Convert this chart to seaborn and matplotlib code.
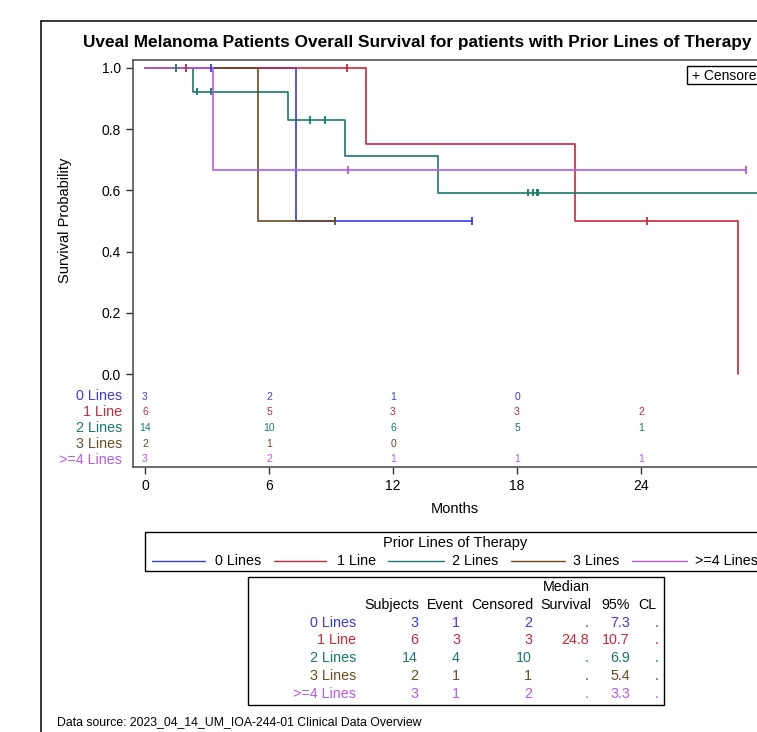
import numpy as np
import pandas as pd
import matplotlib
matplotlib.use("Agg")
import matplotlib.pyplot as plt
import matplotlib.transforms as mtransforms
from matplotlib.patches import Rectangle
from matplotlib.lines import Line2D
import seaborn as sns

# ---------------- data ----------------
groups = ['0 Lines', '1 Line', '2 Lines', '3 Lines', '>=4 Lines']
colors = ['#3A3AEA', '#C8283C', '#167A6A', '#6B4A22', '#B459F0']

# Kaplan-Meier step curves (time in months, survival probability)
step_t_0 = [0.0, 7.3, 15.8]
step_s_0 = [1.0, 0.5, 0.5]
step_t_1 = [0.0, 10.7, 20.8, 28.7]
step_s_1 = [1.0, 0.75, 0.5, 0.0]
step_t_2 = [0.0, 2.3, 6.9, 9.7, 14.2, 31.0]
step_s_2 = [1.0, 0.923, 0.831, 0.712, 0.593, 0.593]
step_t_3 = [0.0, 5.45, 9.2]
step_s_3 = [1.0, 0.5, 0.5]
step_t_4 = [0.0, 3.3, 29.1]
step_s_4 = [1.0, 0.667, 0.667]

# censored observations
cens_t_0 = [3.2, 15.8]
cens_s_0 = [1.0, 0.5]
cens_t_1 = [2.0, 9.75, 24.3]
cens_s_1 = [1.0, 1.0, 0.5]
cens_t_2 = [1.5, 2.5, 3.2, 8.0, 8.7, 18.55, 18.75, 18.95, 19.0]
cens_s_2 = [1.0, 0.923, 0.923, 0.831, 0.831, 0.593, 0.593, 0.593, 0.593]
cens_t_3 = [9.2]
cens_s_3 = [0.5]
cens_t_4 = [9.8, 29.1]
cens_s_4 = [0.667, 0.667]

# number at risk
risk_times = [0, 6, 12, 18, 24]
risk_0 = [3, 2, 1, 0]
risk_1 = [6, 5, 3, 3, 2]
risk_2 = [14, 10, 6, 5, 1]
risk_3 = [2, 1, 0]
risk_4 = [3, 2, 1, 1, 1]

# summary table
tbl_subjects = [3, 6, 14, 2, 3]
tbl_event = [1, 3, 4, 1, 1]
tbl_censored = [2, 3, 10, 1, 2]
tbl_median = ['.', '24.8', '.', '.', '.']
tbl_cl_low = ['7.3', '10.7', '6.9', '5.4', '3.3']
tbl_cl_high = ['.', '.', '.', '.', '.']

x_ticks = [0, 6, 12, 18, 24, 30]
y_ticks = [0.0, 0.2, 0.4, 0.6, 0.8, 1.0]

# ---------------- frames ----------------
steps = [(step_t_0, step_s_0), (step_t_1, step_s_1), (step_t_2, step_s_2),
         (step_t_3, step_s_3), (step_t_4, step_s_4)]
cens = [(cens_t_0, cens_s_0), (cens_t_1, cens_s_1), (cens_t_2, cens_s_2),
        (cens_t_3, cens_s_3), (cens_t_4, cens_s_4)]
risks = [risk_0, risk_1, risk_2, risk_3, risk_4]

df_step = pd.concat([pd.DataFrame({'Months': t, 'Survival': s, 'Group': g})
                     for g, (t, s) in zip(groups, steps)], ignore_index=True)
df_cens = pd.concat([pd.DataFrame({'Months': t, 'Survival': s, 'Group': g})
                     for g, (t, s) in zip(groups, cens)], ignore_index=True)
palette = dict(zip(groups, colors))

sns.set_theme(style='white')
plt.rcParams['font.family'] = ['Liberation Sans', 'DejaVu Sans']

W, H = 757, 732
fig = plt.figure(figsize=(W / 100, H / 100), dpi=100)

def px(x0, y0, x1, y1):
    return [x0 / W, 1 - y1 / H, (x1 - x0) / W, (y1 - y0) / H]

ax = fig.add_axes(px(133, 60, 777, 467))

sns.lineplot(data=df_step, x='Months', y='Survival', hue='Group', hue_order=groups,
             palette=palette, drawstyle='steps-post', estimator=None, sort=False,
             linewidth=1.2, legend=False, ax=ax)
sns.scatterplot(data=df_cens, x='Months', y='Survival', hue='Group', hue_order=groups,
                palette=palette, marker='|', s=30, linewidth=1.3, legend=False, ax=ax,
                zorder=5)

ax.set_xlim(-0.5806, 30.58)
ax.set_ylim(-0.3039, 1.0261)
ax.set_xticks(x_ticks)
ax.set_xticklabels([str(v) for v in x_ticks])
ax.set_yticks(y_ticks)
ax.set_yticklabels([f'{v:.1f}' for v in y_ticks])
ax.set_xlabel('')
ax.set_ylabel('')
ax.tick_params(axis='both', which='both', direction='out', length=5, width=1,
               color='#333333', labelsize=10, labelcolor='black', pad=3.5,
               left=True, bottom=True)
for sp in ax.spines.values():
    sp.set_color('#444444')
    sp.set_linewidth(1.1)

# overlay in pixel coordinates for annotations
ov = fig.add_axes([0, 0, 1, 1], facecolor='none')
ov.set_xlim(0, W)
ov.set_ylim(H, 0)
ov.axis('off')

# at-risk numbers inside the axes
risk_rows_y = [396.5, 412, 428, 444, 459.5]
blend = mtransforms.blended_transform_factory(ax.transData, ov.transData)
for g, c, r, yy in zip(groups, colors, risks, risk_rows_y):
    for t, n in zip(risk_times, r):
        ax.text(t, yy, str(n), transform=blend, ha='center', va='center',
                fontsize=7.5, color=c)
    ov.text(122, yy, g, ha='right', va='center', fontsize=10.3, color=c)

# title and axis labels
ov.text(417, 43, 'Uveal Melanoma Patients Overall Survival for patients with Prior Lines of Therapy',
        ha='center', va='center', fontsize=12.4, fontweight='bold', color='black')
ov.text(65, 220, 'Survival Probability', rotation=90, ha='center', va='center',
        fontsize=10.5, color='black')
ov.text(455, 509, 'Months', ha='center', va='center', fontsize=10.5, color='black')

# outer frame
ov.add_line(Line2D([41, 41], [21, 760], color='black', lw=1.1, clip_on=False))
ov.add_line(Line2D([41, 800], [21, 21], color='black', lw=1.1, clip_on=False))

# censored legend
ov.add_patch(Rectangle((687, 66), 120, 18, fill=False, edgecolor='black', lw=1.0, clip_on=False))
ov.text(692, 75.5, '+ Censored', ha='left', va='center', fontsize=10, color='black', clip_on=False)

# group legend
ov.add_patch(Rectangle((145, 532), 700, 39, fill=False, edgecolor='black', lw=1.0, clip_on=False))
ov.text(455, 542.5, 'Prior Lines of Therapy', ha='center', va='center', fontsize=10.5, color='black')
leg_line_x = [(152, 205), (274, 326), (388, 444), (511, 565), (632, 687)]
leg_text_x = [215, 337, 452, 573, 695]
for g, c, (x0, x1), tx in zip(groups, colors, leg_line_x, leg_text_x):
    ov.add_line(Line2D([x0, x1], [561, 561], color=c, lw=1.0))
    ov.text(tx, 561, g, ha='left', va='center', fontsize=10.3, color='black', clip_on=False)

# statistics table
ov.add_patch(Rectangle((248, 577), 416, 128, fill=False, edgecolor='black', lw=1.0))
ov.text(590, 587, 'Median', ha='right', va='center', fontsize=10.3, color='black')
hdr = [('Subjects', 419), ('Event', 463), ('Censored', 533), ('Survival', 591),
       ('95%', 630), ('CL', 656)]
for txt, xr in hdr:
    ov.text(xr, 605, txt, ha='right', va='center', fontsize=10.3, color='black')
row_y = [622.7, 640.5, 658.3, 676.3, 694.2]
for i, (g, c) in enumerate(zip(groups, colors)):
    yy = row_y[i]
    ov.text(356, yy, g, ha='right', va='center', fontsize=10.3, color=c)
    ov.text(418, yy, str(tbl_subjects[i]), ha='right', va='center', fontsize=10.3, color=c)
    ov.text(460, yy, str(tbl_event[i]), ha='right', va='center', fontsize=10.3, color=c)
    ov.text(532, yy, str(tbl_censored[i]), ha='right', va='center', fontsize=10.3, color=c)
    ov.text(589, yy, tbl_median[i], ha='right', va='center', fontsize=10.3, color=c)
    ov.text(630, yy, tbl_cl_low[i], ha='right', va='center', fontsize=10.3, color=c)
    ov.text(659, yy, tbl_cl_high[i], ha='right', va='center', fontsize=10.3, color=c)

ov.text(57, 722, 'Data source: 2023_04_14_UM_IOA-244-01 Clinical Data Overview',
        ha='left', va='center', fontsize=8.8, color='black')

fig.savefig('out.png', dpi=100)
